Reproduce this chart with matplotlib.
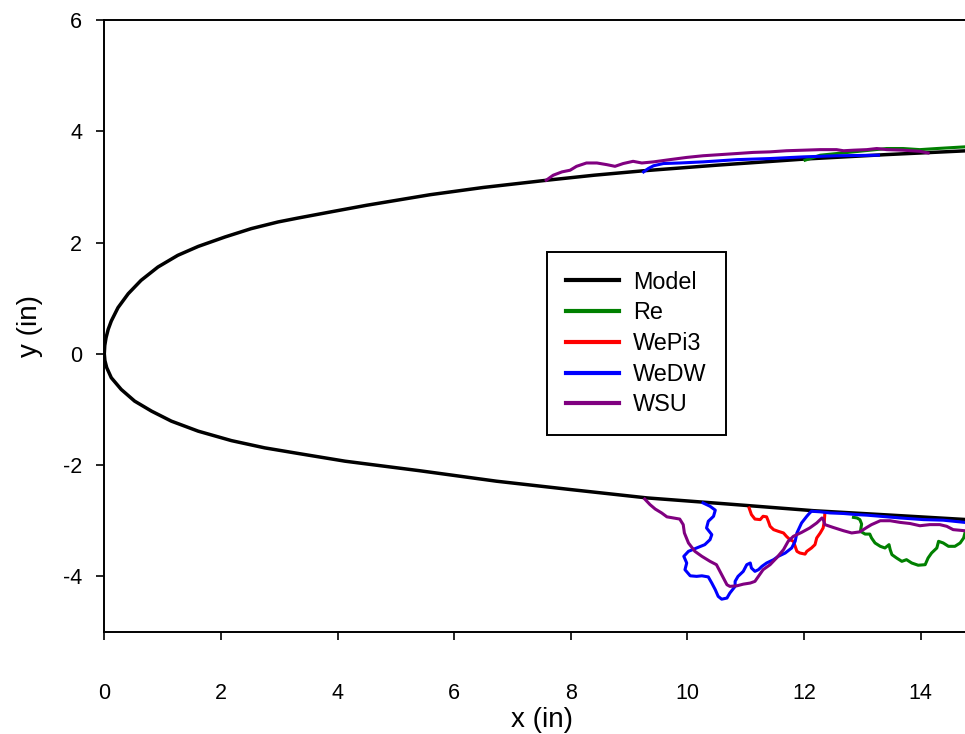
import matplotlib
matplotlib.use("Agg")
import matplotlib.pyplot as plt

plt.rcParams['font.family'] = ['Liberation Sans', 'DejaVu Sans']
plt.rcParams['axes.unicode_minus'] = False

# Model curve (upper branch from right end to nose, then lower branch to right end)
model_upper_x = [15.0, 14.8, 13.4, 12.0, 10.5, 9.25, 8.4, 7.59, 6.5, 5.59, 4.5, 3.88, 3.32, 2.98, 2.52,
                 2.07, 1.61, 1.26, 0.92, 0.63, 0.41, 0.235, 0.12, 0.067, 0.03, 0.008, 0.0]
model_upper_y = [3.66, 3.65, 3.58, 3.50, 3.39, 3.29, 3.21, 3.12, 2.99, 2.86, 2.67, 2.55, 2.44, 2.37, 2.25,
                 2.10, 1.93, 1.77, 1.56, 1.32, 1.08, 0.83, 0.59, 0.44, 0.29, 0.15, 0.0]
model_lower_x = [0.01, 0.042, 0.12, 0.29, 0.52, 0.81, 1.15, 1.61, 2.18, 2.75, 3.32, 4.13, 5.4, 6.73, 8.0,
                 9.31, 10.7, 12.17, 13.5, 14.8, 15.0]
model_lower_y = [-0.12, -0.25, -0.43, -0.64, -0.85, -1.03, -1.21, -1.39, -1.56, -1.69, -1.79, -1.93, -2.10,
                 -2.29, -2.44, -2.59, -2.70, -2.82, -2.90, -2.98, -2.99]

# Re (green)
re_upper_x = [12.02, 12.28, 12.85, 13.42, 13.70, 13.99, 14.28, 14.76]
re_upper_y = [3.48, 3.57, 3.63, 3.69, 3.69, 3.67, 3.69, 3.72]
re_lower_x = [12.85, 12.91, 12.96, 12.99, 12.97, 13.05, 13.13, 13.16, 13.22, 13.31, 13.39, 13.46, 13.48, 13.51,
              13.59, 13.68, 13.76, 13.85, 13.96, 14.08, 14.13, 14.19, 14.28, 14.31, 14.39, 14.48, 14.59,
              14.68, 14.74, 14.77, 14.85]
re_lower_y = [-2.94, -2.95, -2.98, -3.06, -3.19, -3.24, -3.24, -3.31, -3.40, -3.46, -3.49, -3.43, -3.52, -3.61,
              -3.67, -3.73, -3.70, -3.76, -3.80, -3.79, -3.67, -3.58, -3.49, -3.37, -3.40, -3.46, -3.46,
              -3.40, -3.31, -3.19, -3.10]

# WePi3 (red)
wepi3_x = [11.06, 11.10, 11.16, 11.25, 11.30, 11.36, 11.39, 11.42, 11.48, 11.56, 11.65, 11.70, 11.76, 11.82,
           11.85, 11.88, 11.93, 12.02, 12.05, 12.13, 12.19, 12.22, 12.28, 12.33, 12.35, 12.36]
wepi3_y = [-2.77, -2.89, -2.97, -2.98, -2.92, -2.93, -3.01, -3.10, -3.16, -3.19, -3.22, -3.28, -3.34, -3.37,
           -3.46, -3.55, -3.58, -3.60, -3.55, -3.49, -3.43, -3.31, -3.22, -3.13, -3.01, -2.86]

# WeDW (blue)
wedw_upper_x = [9.25, 9.33, 9.42, 9.59, 9.87, 10.27, 10.85, 11.42, 11.99, 12.56, 13.28]
wedw_upper_y = [3.27, 3.33, 3.38, 3.42, 3.43, 3.45, 3.49, 3.51, 3.54, 3.56, 3.57]
wedw_lower_x = [10.27, 10.39, 10.48, 10.45, 10.36, 10.33, 10.42, 10.39, 10.30, 10.16, 10.02, 9.94, 9.99, 9.96,
                10.05, 10.16, 10.25, 10.36, 10.42, 10.48, 10.53, 10.59, 10.68, 10.73, 10.82, 10.82, 10.87,
                10.96, 11.02, 11.08, 11.10, 11.16, 11.22, 11.28, 11.36, 11.48, 11.56, 11.68, 11.79, 11.85,
                11.88, 11.96, 12.05, 12.10, 12.13, 12.28, 12.45, 12.68, 12.91, 13.08, 13.31, 13.65, 14.05,
                14.39, 14.76, 14.9]
wedw_lower_y = [-2.68, -2.74, -2.81, -2.92, -3.01, -3.13, -3.25, -3.34, -3.43, -3.49, -3.55, -3.64, -3.76, -3.88,
                -3.99, -4.00, -3.99, -4.01, -4.12, -4.24, -4.36, -4.41, -4.39, -4.30, -4.18, -4.09, -4.00,
                -3.91, -3.79, -3.76, -3.85, -3.91, -3.88, -3.82, -3.76, -3.70, -3.64, -3.58, -3.49, -3.37,
                -3.22, -3.04, -2.92, -2.86, -2.83, -2.84, -2.86, -2.87, -2.89, -2.90, -2.92, -2.95, -2.98,
                -2.99, -3.03, -3.04]

# WSU (purple)
wsu_upper_x = [7.58, 7.70, 7.85, 7.99, 8.10, 8.27, 8.45, 8.62, 8.76, 8.90, 9.07, 9.22, 9.42, 9.70, 9.99,
               10.27, 10.56, 10.85, 11.13, 11.42, 11.70, 11.99, 12.28, 12.56, 12.68, 12.85, 13.08, 13.25,
               13.42, 13.70, 13.99, 14.13]
wsu_upper_y = [3.12, 3.21, 3.27, 3.30, 3.37, 3.43, 3.43, 3.40, 3.37, 3.42, 3.46, 3.43, 3.45, 3.49, 3.53,
               3.56, 3.58, 3.60, 3.62, 3.63, 3.65, 3.66, 3.67, 3.67, 3.65, 3.66, 3.67, 3.69,
               3.67, 3.66, 3.64, 3.61]
wsu_lower_x = [9.27, 9.36, 9.45, 9.56, 9.65, 9.76, 9.87, 9.93, 9.95, 10.02, 10.13, 10.25, 10.39, 10.50, 10.56,
               10.62, 10.68, 10.73, 10.85, 10.96, 11.08, 11.16, 11.22, 11.30, 11.42, 11.53, 11.65, 11.73,
               11.82, 11.96, 12.10, 12.22, 12.31, 12.33, 12.36, 12.50, 12.68, 12.82, 12.96, 13.08, 13.16,
               13.31, 13.48, 13.65, 13.82, 13.99, 14.16, 14.33, 14.45, 14.56, 14.76, 14.9]
wsu_lower_y = [-2.61, -2.71, -2.79, -2.86, -2.93, -2.95, -2.97, -3.07, -3.22, -3.40, -3.55, -3.64, -3.73, -3.79,
               -3.91, -4.03, -4.15, -4.18, -4.17, -4.14, -4.12, -4.09, -4.00, -3.88, -3.79, -3.67, -3.52,
               -3.37, -3.28, -3.21, -3.13, -3.04, -2.95, -2.97, -3.07, -3.12, -3.18, -3.22, -3.20, -3.12,
               -3.07, -3.00, -3.00, -3.03, -3.05, -3.09, -3.07, -3.07, -3.10, -3.16, -3.18, -3.18]

x_ticks = [0, 2, 4, 6, 8, 10, 12, 14]
y_ticks = [-4, -2, 0, 2, 4, 6]

W, H = 965, 734
fig = plt.figure(figsize=(W / 100, H / 100), dpi=100)
left_px, right_px, top_px, bottom_px = 104.3, 104.3 + 15 * 58.3, 20, 632
ax = fig.add_axes([left_px / W, 1 - bottom_px / H, (right_px - left_px) / W, (bottom_px - top_px) / H])

lw_data = 2.2
model_x = model_upper_x + model_lower_x
model_y = model_upper_y + model_lower_y
ax.plot(model_x, model_y, color='black', lw=2.5, label='Model', solid_joinstyle='round', zorder=2)
ax.plot(re_upper_x, re_upper_y, color='#008000', lw=lw_data, label='Re', zorder=3)
ax.plot(re_lower_x, re_lower_y, color='#008000', lw=lw_data, zorder=3)
ax.plot(wepi3_x, wepi3_y, color='#ff0000', lw=lw_data, label='WePi3', zorder=3)
ax.plot(wedw_upper_x, wedw_upper_y, color='#0000ff', lw=lw_data, label='WeDW', zorder=4)
ax.plot(wedw_lower_x, wedw_lower_y, color='#0000ff', lw=lw_data, zorder=4)
ax.plot(wsu_upper_x, wsu_upper_y, color='#800080', lw=lw_data, label='WSU', zorder=5)
ax.plot(wsu_lower_x, wsu_lower_y, color='#800080', lw=lw_data, zorder=5)

ax.set_xlim(0, 15)
ax.set_ylim(-5, 6)
ax.set_xticks(x_ticks)
ax.set_yticks(y_ticks)
ax.tick_params(direction='out', length=6, width=1.2, labelsize=15.5)
ax.tick_params(axis='x', pad=31)
ax.tick_params(axis='y', pad=10)
for s in ax.spines.values():
    s.set_linewidth(1.4)
ax.spines['right'].set_visible(False)

ax.set_xlabel('x (in)', fontsize=20, labelpad=2)
ax.set_ylabel('y (in)', fontsize=20, labelpad=14)

leg = ax.legend(loc='upper left', bbox_to_anchor=(547 / W, 1 - 252 / H), bbox_transform=fig.transFigure,
                fontsize=16.8, frameon=True, fancybox=False, shadow=False, framealpha=1,
                edgecolor='black', handlelength=2.3, handletextpad=0.6, borderpad=0.8,
                labelspacing=0.33, borderaxespad=0)
leg.get_frame().set_linewidth(1.4)
for h in leg.get_lines():
    h.set_linewidth(3.0)

fig.savefig('out.png', dpi=100)
